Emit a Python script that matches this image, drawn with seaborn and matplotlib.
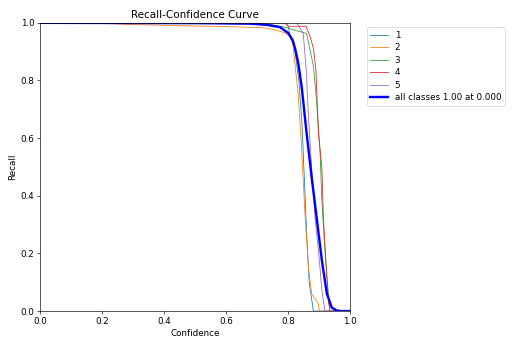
import pandas as pd
import matplotlib
matplotlib.use("Agg")
import matplotlib.pyplot as plt
import seaborn as sns

# ===================== Recall-Confidence curve =====================
names = ["1", "2", "3", "4", "5"]

conf_1 = [0.0, 0.79, 0.80, 0.81, 0.82, 0.835, 0.845, 0.853, 0.86, 0.868, 0.875, 0.882, 1.0]
rec_1 = [1.0, 1.0, 0.99, 0.94, 0.92, 0.80, 0.65, 0.45, 0.27, 0.10, 0.05, 0.0, 0.0]

conf_2 = [0.0, 0.2, 0.3, 0.45, 0.6, 0.72, 0.76, 0.79, 0.805, 0.815, 0.822, 0.833,
          0.844, 0.855, 0.866, 0.876, 0.898, 0.901, 1.0]
rec_2 = [1.0, 0.998, 0.994, 0.99, 0.987, 0.983, 0.975, 0.965, 0.955, 0.93, 0.86, 0.75,
         0.56, 0.33, 0.15, 0.06, 0.025, 0.0, 0.0]

conf_3 = [0.0, 0.72, 0.79, 0.82, 0.86, 0.871, 0.882, 0.892, 0.903, 0.909, 0.919, 0.93, 0.935, 1.0]
rec_3 = [1.0, 0.998, 0.985, 0.975, 0.963, 0.905, 0.85, 0.73, 0.56, 0.385, 0.21, 0.06, 0.0, 0.0]

conf_4 = [0.0, 0.79, 0.80, 0.858, 0.872, 0.882, 0.89, 0.898, 0.909, 0.914, 0.923, 0.93, 0.935, 1.0]
rec_4 = [1.0, 1.0, 0.988, 0.988, 0.95, 0.911, 0.836, 0.616, 0.5, 0.327, 0.154, 0.038, 0.0, 0.0]

conf_5 = [0.0, 0.828, 0.849, 0.858, 0.866, 0.876, 0.887, 0.901, 0.909, 0.919, 1.0]
rec_5 = [1.0, 1.0, 0.963, 0.847, 0.674, 0.5, 0.327, 0.177, 0.073, 0.0, 0.0]

conf_all = [0.0, 0.5, 0.68, 0.731, 0.774, 0.8, 0.815, 0.823, 0.833, 0.844, 0.86, 0.876,
            0.892, 0.909, 0.925, 0.941, 0.957, 0.97, 1.0]
rec_all = [1.0, 0.999, 0.997, 0.993, 0.985, 0.965, 0.94, 0.91, 0.86, 0.778, 0.616, 0.466,
           0.327, 0.177, 0.061, 0.012, 0.002, 0.0, 0.0]

all_label = "all classes 1.00 at 0.000"

curves = [(conf_1, rec_1), (conf_2, rec_2), (conf_3, rec_3), (conf_4, rec_4), (conf_5, rec_5)]
colors = sns.color_palette("tab10", 5)

plt.rcParams['font.size'] = 10.9

fig, ax = plt.subplots(1, 1, figsize=(9, 6))
fig.subplots_adjust(left=0.0771, right=0.6744, top=0.934, bottom=0.101)

for name, (cx, ry), col in zip(names, curves, colors):
    sns.lineplot(x=cx, y=ry, ax=ax, color=col, linewidth=1, label=name,
                 estimator=None, sort=False)

sns.lineplot(x=conf_all, y=rec_all, ax=ax, color="blue", linewidth=3, label=all_label,
             estimator=None, sort=False)

ax.set_xlim(0, 1)
ax.set_ylim(0, 1)
ax.set_xlabel("Confidence")
ax.set_ylabel("Recall")
ax.set_title("Recall-Confidence Curve", fontsize=13)
ax.legend(bbox_to_anchor=(1.04, 1), loc="upper left", labelspacing=0.4)

fig.savefig("out.png", dpi=57.67)
